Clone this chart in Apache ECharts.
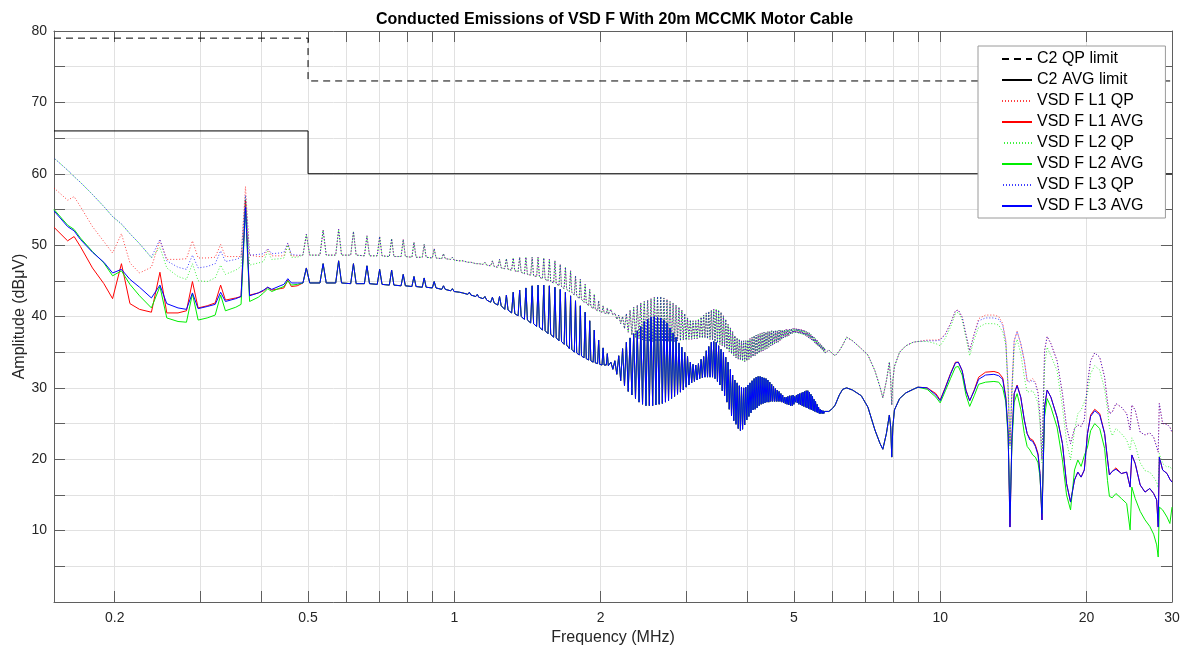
<!DOCTYPE html>
<html>
<head>
<meta charset="utf-8">
<title>Conducted Emissions of VSD F</title>
<script src="https://cdn.jsdelivr.net/npm/echarts@6/dist/echarts.min.js"></script>
<style>
  html, body { margin: 0; padding: 0; background: #fff; }
  #ct1 { width: 1197px; height: 652px; }
</style>
</head>
<body>
<div id="ct1"></div>
<script>
// frequency axis ticks (MHz)
var tickFreqs = [0.2, 0.3, 0.4, 0.5, 0.6, 0.7, 0.8, 0.9, 1, 2, 3, 4, 5, 6, 7, 8, 9, 10, 20, 30];
var labelFreqs = [0.2, 0.5, 1, 2, 5, 10, 20, 30];

// C2 limits
var limitFreq = [0.15, 0.5, 0.5, 30];
var qpLimit = [79, 79, 73, 73];
var avgLimit = [66, 66, 60, 60];

// low band, each phase on its own
var freqLow = [0.15, 0.16, 0.165, 0.17, 0.18, 0.19, 0.198, 0.2065, 0.215, 0.225, 0.238, 0.2478, 0.256, 0.27, 0.281, 0.2891, 0.297, 0.31, 0.322, 0.3304, 0.338, 0.355, 0.364, 0.3717, 0.379, 0.395, 0.405, 0.413, 0.421, 0.438, 0.446, 0.4543, 0.462, 0.475];
var l1QpLow = [58.0, 56.3, 56.8, 55.4, 52.6, 50.5, 48.9, 51.6, 47.5, 46.1, 46.9, 50.7, 48.0, 48.0, 48.1, 50.6, 48.2, 48.2, 48.3, 50.1, 48.4, 48.4, 48.4, 58.2, 48.6, 48.4, 48.4, 49.4, 48.5, 48.5, 48.5, 50.2, 48.5, 48.5];
var l2QpLow = [62.2, 60.5, 59.6, 58.8, 57.1, 55.4, 54.0, 52.9, 51.6, 50.2, 48.2, 49.7, 46.8, 45.6, 45.2, 47.4, 45.0, 44.9, 45.4, 47.2, 45.9, 46.5, 47.0, 56.7, 47.2, 47.5, 47.7, 49.1, 48.0, 48.1, 48.2, 50.0, 48.3, 48.3];
var l3QpLow = [62.2, 60.5, 59.6, 58.8, 57.1, 55.4, 54.0, 53.0, 51.6, 50.2, 48.3, 50.8, 47.8, 46.9, 46.6, 48.6, 46.8, 47.0, 47.4, 49.2, 47.7, 48.0, 48.3, 57.0, 48.6, 48.7, 48.8, 49.5, 48.8, 48.9, 49.0, 50.3, 48.7, 48.6];
var l1AvgLow = [52.5, 50.6, 51.2, 49.8, 46.8, 44.6, 42.5, 47.4, 41.8, 41.0, 40.6, 46.2, 40.5, 40.5, 40.8, 44.9, 41.2, 41.5, 41.9, 44.4, 42.3, 42.6, 42.8, 56.3, 43.0, 43.3, 43.6, 44.1, 43.7, 43.9, 44.0, 45.1, 44.2, 44.3];
var l2AvgLow = [55.0, 52.8, 52.2, 51.0, 49.1, 47.5, 45.7, 46.4, 44.5, 42.9, 41.2, 44.2, 39.8, 39.3, 39.2, 43.2, 39.5, 39.8, 40.2, 43.0, 40.8, 41.3, 41.7, 55.1, 42.1, 42.7, 43.3, 43.9, 43.5, 44.0, 44.2, 45.0, 44.4, 44.5];
var l3AvgLow = [54.8, 52.6, 52.0, 50.8, 49.0, 47.6, 46.1, 46.6, 45.2, 44.1, 42.6, 44.4, 41.8, 41.2, 41.0, 43.3, 41.1, 41.4, 41.7, 43.4, 42.1, 42.5, 42.8, 55.3, 42.9, 43.3, 43.7, 44.1, 43.8, 44.3, 44.5, 45.3, 44.7, 44.7];

// harmonic spikes 0.5 - 2.1 MHz (all phases alike)
var freqSpike = [0.488, 0.496, 0.504, 0.529, 0.537, 0.545, 0.570, 0.578, 0.586, 0.612, 0.620, 0.628, 0.653, 0.661, 0.669, 0.694, 0.702, 0.710, 0.735, 0.743, 0.751, 0.777, 0.785, 0.793, 0.818, 0.826, 0.834, 0.859, 0.867, 0.875,
  0.901, 0.909, 0.917, 0.942, 0.950, 0.958, 0.983, 0.991, 0.999, 1.025, 1.033, 1.041, 1.066, 1.074, 1.082, 1.107, 1.115, 1.123, 1.146, 1.156, 1.166, 1.188, 1.198, 1.208, 1.229, 1.239, 1.249, 1.270, 1.280, 1.290,
  1.312, 1.322, 1.332, 1.353, 1.363, 1.373, 1.394, 1.404, 1.414, 1.436, 1.446, 1.456, 1.477, 1.487, 1.497, 1.518, 1.528, 1.538, 1.559, 1.569, 1.579, 1.601, 1.611, 1.621, 1.642, 1.652, 1.662, 1.683, 1.693, 1.703,
  1.725, 1.735, 1.745, 1.766, 1.776, 1.786, 1.807, 1.817, 1.827, 1.849, 1.859, 1.869, 1.890, 1.900, 1.910, 1.931, 1.941, 1.951, 1.972, 1.982, 1.992, 2.014, 2.024, 2.034, 2.055, 2.065, 2.075];
var qpSpike = [48.6, 51.5, 48.6, 48.6, 52.1, 48.6, 48.6, 52.2, 48.6, 48.6, 51.9, 48.6, 48.5, 51.3, 48.5, 48.5, 51.2, 48.5, 48.4, 50.9, 48.4, 48.4, 50.8, 48.4, 48.3, 50.4, 48.3, 48.3, 50.1, 48.3,
  48.2, 49.5, 48.2, 48.1, 48.8, 48.1, 48.0, 48.3, 47.9, 47.8, 48.0, 47.8, 47.6, 47.8, 47.6, 47.4, 47.6, 47.4, 47.3, 47.6, 47.2, 47.1, 47.8, 47.0, 46.9, 48.0, 46.8, 46.7, 48.1, 46.6,
  46.5, 48.2, 46.4, 46.3, 48.3, 46.2, 46.0, 48.3, 45.9, 45.8, 48.3, 45.7, 45.6, 48.3, 45.5, 45.3, 48.2, 45.2, 45.0, 48.0, 44.9, 44.7, 47.8, 44.6, 44.3, 47.3, 44.2, 43.9, 46.9, 43.8,
  43.5, 46.4, 43.4, 43.0, 45.7, 42.9, 42.5, 45.2, 42.4, 42.0, 44.5, 41.9, 41.5, 43.8, 41.4, 41.1, 43.1, 41.0, 40.8, 42.2, 40.7, 40.6, 41.5, 40.5, 40.4, 41.2, 40.3];
var avgSpike = [44.7, 46.8, 44.7, 44.7, 47.4, 44.7, 44.7, 47.8, 44.7, 44.6, 47.4, 44.6, 44.6, 47.1, 44.6, 44.5, 46.6, 44.5, 44.4, 46.5, 44.4, 44.3, 45.9, 44.3, 44.2, 45.6, 44.2, 44.1, 45.4, 44.1,
  44.0, 44.9, 44.0, 43.8, 44.3, 43.8, 43.6, 43.9, 43.5, 43.4, 43.6, 43.3, 43.1, 43.4, 43.0, 42.8, 43.1, 42.7, 42.5, 42.8, 42.3, 42.0, 42.7, 41.9, 41.6, 42.8, 41.5, 41.0, 43.0, 40.9,
  40.5, 43.4, 40.4, 40.1, 43.7, 40.0, 39.6, 44.0, 39.5, 39.1, 44.3, 39.0, 38.6, 44.4, 38.5, 38.1, 44.4, 38.0, 37.6, 44.3, 37.5, 37.1, 44.1, 37.0, 36.6, 43.8, 36.5, 36.1, 43.4, 36.0,
  35.5, 42.9, 35.4, 35.0, 42.2, 34.9, 34.6, 41.5, 34.5, 34.2, 40.6, 34.1, 33.9, 39.4, 33.8, 33.6, 38.1, 33.5, 33.4, 36.7, 33.3, 33.2, 35.6, 33.2, 33.2, 34.8, 33.1];

// dense ripple band 2.1 - 5.8 MHz (peak, dip, peak, dip ...)
var freqBand = [2.10, 2.12, 2.14, 2.16, 2.18, 2.20, 2.22, 2.24, 2.26, 2.28, 2.30, 2.32, 2.34, 2.36, 2.38, 2.40, 2.42, 2.44, 2.46, 2.48,
  2.50, 2.52, 2.54, 2.56, 2.58, 2.60, 2.62, 2.64, 2.66, 2.68, 2.70, 2.72, 2.74, 2.76, 2.78, 2.80, 2.82, 2.84, 2.86, 2.88,
  2.90, 2.92, 2.94, 2.96, 2.98, 3.00, 3.02, 3.04, 3.06, 3.08, 3.10, 3.12, 3.14, 3.16, 3.18, 3.20, 3.22, 3.24, 3.26, 3.28,
  3.30, 3.32, 3.34, 3.36, 3.38, 3.40, 3.42, 3.44, 3.46, 3.48, 3.50, 3.52, 3.54, 3.56, 3.58, 3.60, 3.62, 3.64, 3.66, 3.68,
  3.70, 3.72, 3.74, 3.76, 3.78, 3.80, 3.82, 3.84, 3.86, 3.88, 3.90, 3.92, 3.94, 3.96, 3.98, 4.00, 4.02, 4.04, 4.06, 4.08,
  4.10, 4.12, 4.14, 4.16, 4.18, 4.20, 4.22, 4.24, 4.26, 4.28, 4.30, 4.32, 4.34, 4.36, 4.38, 4.40, 4.42, 4.44, 4.46, 4.48,
  4.50, 4.52, 4.54, 4.56, 4.58, 4.60, 4.62, 4.64, 4.66, 4.68, 4.70, 4.72, 4.74, 4.76, 4.78, 4.80, 4.82, 4.84, 4.86, 4.88,
  4.90, 4.92, 4.94, 4.96, 4.98, 5.00, 5.02, 5.04, 5.06, 5.08, 5.10, 5.12, 5.14, 5.16, 5.18, 5.20, 5.22, 5.24, 5.26, 5.28,
  5.30, 5.32, 5.34, 5.36, 5.38, 5.40, 5.42, 5.44, 5.46, 5.48, 5.50, 5.52, 5.54, 5.56, 5.58, 5.60, 5.62, 5.64, 5.66, 5.68,
  5.70, 5.72, 5.74, 5.76, 5.78, 5.80];
var qpBand = [41.0, 40.2, 40.5, 39.6, 40.2, 39.0, 40.0, 38.3, 40.4, 37.8, 40.9, 37.4, 41.3, 37.1, 41.6, 36.9, 41.9, 36.7, 42.1, 36.6,
  42.3, 36.5, 42.5, 36.5, 42.7, 36.5, 42.8, 36.5, 42.8, 36.5, 42.6, 36.5, 42.4, 36.5, 42.1, 36.5, 41.9, 36.5, 41.6, 36.6,
  41.3, 36.6, 40.9, 36.7, 40.4, 36.7, 39.8, 36.8, 39.5, 36.8, 39.4, 36.9, 39.4, 36.9, 39.6, 37.0, 39.9, 37.0, 40.2, 37.0,
  40.5, 36.9, 40.7, 36.8, 40.9, 36.7, 41.0, 36.5, 41.0, 36.3, 40.9, 36.1, 40.6, 35.9, 40.1, 35.7, 39.6, 35.4, 38.9, 35.1,
  38.4, 34.8, 37.9, 34.5, 37.3, 34.2, 37.0, 34.0, 36.8, 33.9, 36.6, 33.8, 36.6, 33.7, 36.6, 33.8, 36.7, 34.0, 36.9, 34.2,
  37.1, 34.4, 37.3, 34.5, 37.4, 34.7, 37.5, 34.9, 37.6, 35.1, 37.7, 35.2, 37.8, 35.4, 37.8, 35.5, 37.9, 35.7, 37.9, 35.9,
  38.0, 36.0, 38.0, 36.2, 38.0, 36.3, 38.0, 36.4, 38.1, 36.6, 38.1, 36.8, 38.1, 37.0, 38.1, 37.1, 38.2, 37.2, 38.2, 37.3,
  38.2, 37.5, 38.3, 37.6, 38.3, 37.7, 38.3, 37.7, 38.3, 37.7, 38.3, 37.6, 38.2, 37.6, 38.2, 37.5, 38.1, 37.4, 38.0, 37.3,
  37.9, 37.2, 37.8, 37.0, 37.7, 36.9, 37.5, 36.7, 37.3, 36.5, 37.1, 36.3, 36.9, 36.1, 36.7, 35.9, 36.4, 35.7, 36.2, 35.5,
  36.0, 35.3, 35.8, 35.1, 35.6, 34.9];
var avgBand = [33.6, 32.6, 33.8, 31.9, 34.5, 31.0, 35.5, 30.3, 36.4, 29.5, 37.0, 29.0, 37.6, 28.5, 38.0, 28.0, 38.6, 27.7, 39.3, 27.5,
  39.6, 27.5, 39.9, 27.5, 40.0, 27.6, 39.9, 27.7, 39.8, 27.8, 39.5, 28.0, 39.1, 28.2, 38.4, 28.5, 37.7, 28.8, 37.1, 29.1,
  36.3, 29.4, 35.7, 29.7, 35.0, 30.1, 34.4, 30.4, 33.6, 30.7, 33.3, 30.9, 33.2, 31.1, 33.4, 31.3, 34.0, 31.4, 34.4, 31.5,
  35.2, 31.5, 35.8, 31.5, 36.4, 31.5, 36.5, 31.3, 36.4, 30.9, 35.9, 30.4, 35.4, 29.6, 35.0, 28.9, 34.3, 28.0, 33.6, 27.0,
  32.6, 26.1, 31.8, 25.4, 31.1, 24.9, 30.7, 24.3, 30.3, 24.0, 30.1, 24.2, 30.0, 24.8, 30.1, 25.5, 30.4, 26.0, 30.7, 26.5,
  31.0, 26.9, 31.3, 27.0, 31.5, 27.2, 31.6, 27.5, 31.6, 27.7, 31.5, 27.8, 31.4, 27.9, 31.3, 28.0, 31.1, 28.0, 30.8, 28.1,
  30.5, 28.1, 30.2, 28.1, 29.9, 28.1, 29.7, 28.1, 29.5, 28.1, 29.2, 28.0, 29.0, 27.9, 28.7, 27.8, 28.7, 27.7, 28.8, 27.6,
  28.9, 27.5, 28.9, 27.5, 29.0, 27.7, 28.8, 28.0, 29.0, 27.9, 29.1, 27.7, 29.2, 27.6, 29.3, 27.5, 29.4, 27.4, 29.5, 27.3,
  29.6, 27.2, 29.6, 27.1, 29.4, 27.0, 29.1, 26.9, 28.8, 26.8, 28.4, 26.7, 28.1, 26.6, 27.7, 26.5, 27.3, 26.4, 27.0, 26.4,
  26.9, 26.4, 26.8, 26.4, 26.7, 26.5];

// 5.9 - 9 MHz (all phases alike)
var freqTail = [5.90, 6.00, 6.08, 6.20, 6.30, 6.42, 6.60, 6.88, 7.10, 7.34, 7.52, 7.62, 7.75, 7.86, 7.91, 7.95, 7.99, 8.05, 8.25, 8.50, 8.80, 9.00];
var qpTail = [35.3, 34.8, 34.5, 35.2, 36.0, 37.1, 36.6, 35.5, 34.6, 32.4, 30.1, 28.6, 31.0, 33.6, 31.0, 27.6, 31.0, 33.0, 35.0, 35.9, 36.4, 36.5];
var avgTail = [26.7, 27.1, 27.6, 29.0, 29.8, 30.0, 29.7, 28.9, 27.3, 24.1, 22.2, 21.4, 23.6, 26.2, 24.5, 20.3, 24.5, 26.9, 28.5, 29.3, 29.8, 30.1];

// high band, each phase on its own
var freqHigh = [9.4, 9.8, 10.0, 10.25, 10.5, 10.75, 10.9, 11.1, 11.3, 11.5, 11.75, 12.0, 12.4, 12.9, 13.2, 13.45, 13.65, 13.8, 13.92, 14.05,
  14.2, 14.4, 14.65, 14.9, 15.1, 15.3, 15.5, 15.7, 15.9, 16.05, 16.2, 16.4, 16.6, 16.9, 17.4, 17.85, 18.2, 18.55, 18.9, 19.2,
  19.5, 19.8, 20.1, 20.4, 20.8, 21.3, 21.8, 22.1, 22.3, 22.6, 23.0, 23.6, 24.2, 24.6, 24.8, 25.2, 25.8, 26.4, 27.0, 27.5,
  27.9, 28.1, 28.25, 28.7, 29.3, 29.7, 30.0];
var l1QpHigh = [36.7, 36.7, 36.8, 37.6, 39.0, 40.8, 40.9, 39.9, 37.5, 35.2, 37.6, 39.7, 40.2, 40.2, 40.0, 39.0, 36.6, 30.0, 22.0, 30.0,
  36.6, 37.9, 36.2, 33.8, 31.0, 31.0, 31.3, 30.8, 29.4, 26.0, 20.0, 35.2, 37.2, 36.2, 33.8, 29.2, 24.5, 22.2, 24.3, 24.8,
  24.6, 25.5, 30.6, 33.8, 34.9, 34.3, 31.5, 28.0, 26.4, 26.6, 27.8, 27.3, 26.4, 24.1, 27.6, 26.9, 23.8, 23.4, 23.7, 23.1,
  21.7, 21.0, 27.8, 25.0, 24.9, 24.5, 23.8];
var l2QpHigh = [36.5, 36.2, 35.9, 37.0, 38.5, 40.4, 40.6, 39.5, 37.0, 34.5, 36.8, 38.5, 39.0, 39.0, 38.8, 37.8, 36.0, 29.5, 21.5, 29.0,
  35.5, 36.8, 34.8, 31.5, 29.4, 29.5, 29.6, 28.9, 27.8, 25.0, 19.5, 33.0, 35.7, 34.5, 32.4, 27.3, 22.5, 19.9, 24.0, 26.4,
  26.9, 28.0, 29.2, 32.0, 33.1, 32.5, 29.8, 26.9, 24.5, 23.3, 24.3, 23.6, 22.7, 21.3, 23.0, 22.0, 19.5, 18.4, 18.2, 17.5,
  16.8, 16.0, 20.8, 19.4, 18.9, 19.0, 18.5];
var l3QpHigh = [36.6, 36.6, 36.7, 37.5, 39.0, 40.8, 40.9, 39.9, 37.5, 35.2, 37.5, 39.4, 39.8, 39.8, 39.6, 38.8, 36.4, 30.0, 22.0, 30.0,
  36.6, 37.9, 36.2, 33.8, 31.0, 30.8, 31.1, 30.6, 29.2, 26.0, 20.0, 35.2, 37.2, 36.2, 33.8, 29.2, 24.5, 22.2, 24.3, 24.8,
  24.6, 25.5, 30.6, 33.8, 34.9, 34.3, 31.5, 28.0, 26.4, 26.6, 27.8, 27.3, 26.4, 24.1, 27.6, 26.9, 23.8, 23.4, 23.7, 23.1,
  21.7, 21.0, 27.8, 25.0, 24.9, 24.5, 23.8];
var l1AvgHigh = [30.0, 29.2, 28.3, 30.1, 32.0, 33.6, 33.6, 32.4, 29.7, 28.2, 29.7, 31.5, 32.2, 32.3, 32.1, 31.4, 28.7, 23.6, 10.5, 23.0,
  29.2, 30.4, 28.7, 25.5, 23.6, 22.9, 22.7, 22.0, 20.8, 18.0, 11.5, 27.3, 29.7, 28.7, 25.9, 22.2, 16.6, 14.0, 17.1, 18.2,
  17.5, 18.5, 23.6, 26.2, 27.0, 26.4, 23.6, 20.0, 17.8, 18.3, 18.8, 18.0, 18.2, 16.1, 20.6, 19.4, 16.4, 15.4, 15.9, 15.2,
  14.3, 10.5, 20.3, 18.5, 18.0, 17.2, 16.8];
var l2AvgHigh = [29.8, 28.7, 27.9, 29.6, 31.3, 32.9, 33.0, 31.8, 29.0, 27.4, 28.9, 30.5, 30.8, 30.9, 30.8, 30.0, 28.0, 23.0, 12.4, 22.0,
  28.0, 29.2, 27.0, 23.6, 21.8, 21.3, 20.6, 20.3, 19.5, 17.5, 12.4, 26.0, 28.5, 27.3, 24.5, 19.9, 15.0, 12.9, 18.5, 19.9,
  19.0, 20.5, 21.7, 24.0, 25.0, 24.3, 21.5, 17.0, 14.8, 14.6, 15.2, 14.5, 13.8, 10.1, 16.1, 14.5, 12.7, 11.5, 10.6, 9.5,
  8.0, 6.3, 13.3, 12.9, 11.9, 11.0, 13.3];
var l3AvgHigh = [30.0, 29.0, 28.2, 30.0, 31.9, 33.5, 33.6, 32.4, 29.6, 28.2, 29.6, 31.2, 31.8, 31.9, 31.7, 31.2, 28.5, 23.6, 10.5, 23.0,
  29.2, 30.3, 28.7, 25.5, 23.6, 22.7, 22.5, 21.8, 20.6, 18.0, 11.5, 27.3, 29.7, 28.7, 25.9, 22.2, 16.6, 14.0, 17.1, 18.2,
  17.5, 18.5, 23.6, 26.0, 26.8, 26.2, 23.6, 20.0, 17.8, 18.3, 18.6, 18.0, 18.2, 16.1, 20.6, 19.4, 16.4, 15.4, 15.9, 15.2,
  14.3, 10.5, 20.3, 18.5, 18.0, 17.2, 16.8];

function pairs(f, v) {
  return f.map(function (x, i) { return [x, v[i]]; });
}

function trace(low, spike, band, tail, high) {
  return [].concat(pairs(freqLow, low), pairs(freqSpike, spike), pairs(freqBand, band),
    pairs(freqTail, tail), pairs(freqHigh, high));
}

window.onload = function () {
  var myChart = echarts.init(document.getElementById('ct1'));
  var font = "'Liberation Sans', Arial, Helvetica, sans-serif";
  var axisGray = '#5f5f5f';
  var gridGray = '#e1e1e1';

  function qpLine(name, color, low, high, offset) {
    return {
      name: name, type: 'line', symbol: 'none', showSymbol: false,
      data: trace(low, qpSpike, qpBand, qpTail, high),
      itemStyle: { color: color },
      lineStyle: { color: color, width: 1, type: [1, 2], dashOffset: offset, opacity: 0.75 }
    };
  }
  function avgLine(name, color, low, high) {
    return {
      name: name, type: 'line', symbol: 'none', showSymbol: false,
      data: trace(low, avgSpike, avgBand, avgTail, high),
      itemStyle: { color: color },
      lineStyle: { color: color, width: 1 }
    };
  }

  var option = {
    animation: false,
    textStyle: { fontFamily: font },
    title: {
      text: 'Conducted Emissions of VSD F With 20m MCCMK Motor Cable',
      left: 371, top: 7,
      textStyle: { fontSize: 16, fontWeight: 'bold', color: '#000', fontFamily: font }
    },
    legend: {
      orient: 'vertical', left: 978, top: 46,
      padding: [5, 22, 4, 23],
      itemWidth: 30, itemHeight: 14, itemGap: 5,
      itemStyle: { opacity: 0 },
      backgroundColor: '#fff', borderColor: '#9a9a9a', borderWidth: 1,
      textStyle: { fontSize: 16, color: '#000', fontFamily: font },
      data: ['C2 QP limit', 'C2 AVG limit', 'VSD F L1 QP', 'VSD F L1 AVG', 'VSD F L2 QP', 'VSD F L2 AVG', 'VSD F L3 QP', 'VSD F L3 AVG']
    },
    grid: { left: 54, right: 25, top: 31, bottom: 50, containLabel: false, outerBoundsMode: 'none' },
    xAxis: [{
      type: 'log', logBase: 10, min: 0.15, max: 30, position: 'bottom',
      name: 'Frequency (MHz)', nameLocation: 'middle', nameGap: 25,
      nameTextStyle: { fontSize: 16, color: '#262626', fontFamily: font },
      axisLine: { show: true, onZero: false, lineStyle: { color: axisGray, width: 1 } },
      axisTick: { show: true, inside: true, length: 11, customValues: tickFreqs, lineStyle: { color: axisGray } },
      axisLabel: {
        customValues: labelFreqs, fontSize: 14, color: '#262626', margin: 9, fontFamily: font,
        formatter: function (v) { return String(Math.round(v * 100) / 100); }
      },
      splitLine: { show: true, lineStyle: { color: gridGray, width: 1 } }
    }, {
      type: 'log', logBase: 10, min: 0.15, max: 30, position: 'top',
      axisLine: { show: true, onZero: false, lineStyle: { color: axisGray, width: 1 } },
      axisTick: { show: true, inside: true, length: 11, customValues: tickFreqs, lineStyle: { color: axisGray } },
      axisLabel: { show: false },
      splitLine: { show: false }
    }],
    yAxis: [{
      type: 'value', min: 0, max: 80, interval: 5, position: 'left',
      name: 'Amplitude (dBμV)', nameLocation: 'middle', nameGap: 26, nameMoveOverlap: false,
      nameTextStyle: { fontSize: 16, color: '#262626', fontFamily: font },
      axisLine: { show: true, onZero: false, lineStyle: { color: axisGray, width: 1 } },
      axisTick: { show: true, inside: true, length: 11, lineStyle: { color: axisGray } },
      axisLabel: {
        fontSize: 14, color: '#262626', margin: 7, fontFamily: font,
        formatter: function (v) { return (v > 0 && v % 10 === 0) ? String(v) : ''; }
      },
      splitLine: { show: true, lineStyle: { color: gridGray, width: 1 } }
    }, {
      type: 'value', min: 0, max: 80, interval: 5, position: 'right',
      axisLine: { show: true, onZero: false, lineStyle: { color: axisGray, width: 1 } },
      axisTick: { show: true, inside: true, length: 11, lineStyle: { color: axisGray } },
      axisLabel: { show: false },
      splitLine: { show: false }
    }],
    series: [
      {
        name: 'C2 QP limit', type: 'line', symbol: 'none', showSymbol: false,
        data: pairs(limitFreq, qpLimit),
        itemStyle: { color: '#000' },
        lineStyle: { color: '#000', width: 1, type: [7, 5] }
      },
      {
        name: 'C2 AVG limit', type: 'line', symbol: 'none', showSymbol: false,
        data: pairs(limitFreq, avgLimit),
        itemStyle: { color: '#000' },
        lineStyle: { color: '#000', width: 1 }
      },
      qpLine('VSD F L1 QP', '#ff0000', l1QpLow, l1QpHigh, 0),
      avgLine('VSD F L1 AVG', '#ff0000', l1AvgLow, l1AvgHigh),
      qpLine('VSD F L2 QP', '#00ee00', l2QpLow, l2QpHigh, 1),
      avgLine('VSD F L2 AVG', '#00ee00', l2AvgLow, l2AvgHigh),
      qpLine('VSD F L3 QP', '#0000ff', l3QpLow, l3QpHigh, 2),
      avgLine('VSD F L3 AVG', '#0000ff', l3AvgLow, l3AvgHigh)
    ]
  };

  myChart.setOption(option);
};
</script>
</body>
</html>
